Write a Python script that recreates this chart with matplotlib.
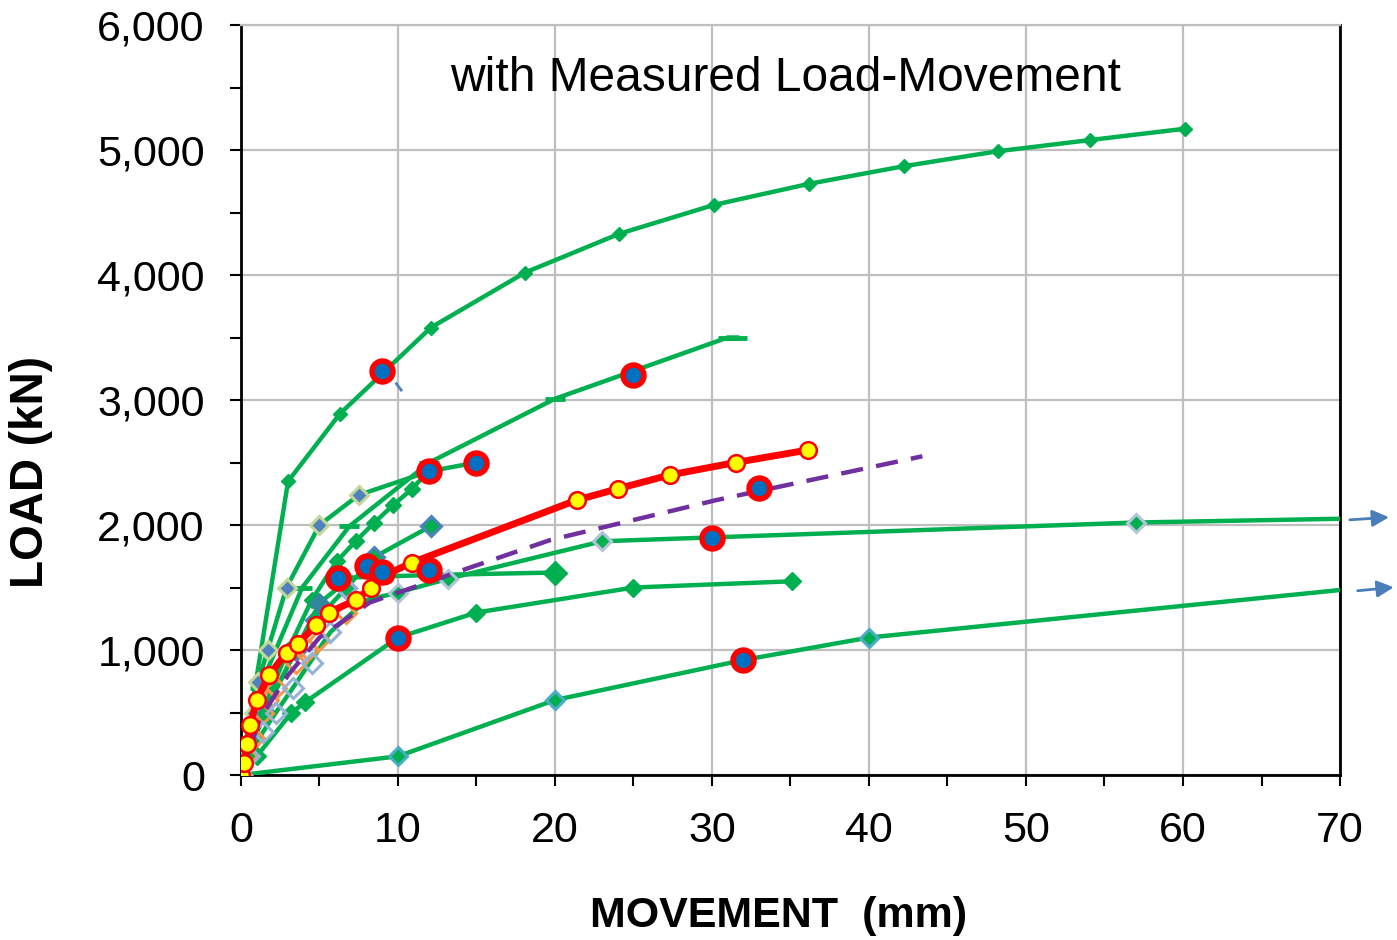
import matplotlib
matplotlib.use("Agg")
import matplotlib.pyplot as plt
from matplotlib.ticker import MultipleLocator, FuncFormatter

plt.rcParams["font.family"] = ["Liberation Sans", "DejaVu Sans"]

GREEN = "#00B050"

# ── Datos ────────────────────────────────────────────────────────────────────
# curvas verdes: (x mm, y kN)
g_top_x = [0, 3.0, 6.3, 12.1, 18.1, 24.1, 30.1, 36.2, 42.2, 48.2, 54.1, 60.1]
g_top_y = [0, 2350, 2890, 3580, 4020, 4330, 4560, 4730, 4870, 4990, 5080, 5170]

g_dash_x = [0, 1.2, 3.9, 6.9, 12.0, 20.0, 31.0, 31.6]
g_dash_y = [0, 700, 1500, 1990, 2500, 3010, 3500, 3500]

g_grey_x = [0, 0.4, 0.8, 1.1, 1.7, 2.9, 5.0, 7.5, 12.0, 15.0]
g_grey_y = [0, 256, 496, 744, 1000, 1500, 2000, 2240, 2430, 2500]

g_diam_x = [0, 1.5, 3.0, 4.5, 6.1, 7.3, 8.5, 9.7, 10.9, 12.0]
g_diam_y = [0, 550, 1000, 1400, 1710, 1870, 2020, 2160, 2290, 2440]

g_blue_x = [0, 1.5, 3.5, 4.8, 6.7, 8.5, 12.1]
g_blue_y = [0, 500, 1000, 1240, 1496, 1744, 1992]

g_flat_x = [0, 1.5, 3.5, 5.0, 7.0, 12.0, 20.0]
g_flat_y = [0, 500, 1000, 1376, 1580, 1600, 1620]

g_long_x = [0, 1.4, 2.2, 3.3, 5.7, 8.0, 10.0, 13.2, 23.0, 57.0, 70.0]
g_long_y = [0, 344, 496, 696, 1144, 1400, 1460, 1570, 1870, 2020, 2050]

g_mid_x = [0, 1.0, 3.2, 4.1, 10.0, 15.0, 25.0, 35.1]
g_mid_y = [0, 150, 496, 584, 1100, 1300, 1500, 1550]

g_low_x = [0, 10.0, 20.0, 32.0, 40.0, 70.0]
g_low_y = [0, 150, 600, 920, 1100, 1480]

# curva medida (roja con circulos amarillos)
red_x = [0, 0.2, 0.4, 0.6, 1.0, 1.8, 2.9, 3.6, 4.8, 5.6, 7.3, 8.3, 9.2, 10.9,
         21.4, 24.0, 27.3, 31.5, 36.1]
red_y = [0, 100, 250, 400, 600, 800, 980, 1050, 1200, 1300, 1400, 1500, 1600, 1700,
         2200, 2290, 2400, 2500, 2600]

# curva a trazos morada
pur_x = [0, 1.2, 3.0, 5.0, 8.2, 14.6, 19.7, 30.3, 43.4]
pur_y = [0, 450, 800, 1100, 1380, 1660, 1880, 2200, 2550]

# diamantes abiertos
orange_x = [0, 0.4, 0.8, 1.4, 1.7, 2.2, 3.5, 4.3, 5.0, 6.7]
orange_y = [0, 150, 300, 500, 600, 700, 900, 1000, 1080, 1300]
lav_x = [0, 0.5, 1.4, 2.2, 3.3, 4.5, 5.7, 6.7]
lav_y = [0, 150, 344, 496, 696, 900, 1144, 1496]

# puntos rojos con centro azul
pts_x = [9.0, 25.0, 12.0, 15.0, 33.0, 30.0, 6.2, 8.0, 9.0, 12.0, 10.0, 32.0]
pts_y = [3230, 3200, 2430, 2500, 2300, 1900, 1576, 1672, 1624, 1640, 1100, 920]

# ── Grafico ──────────────────────────────────────────────────────────────────
fig = plt.figure(figsize=(13.97, 9.4), dpi=100)
ax = fig.add_axes([0.1725, 0.1755, 0.7867, 0.7979])

lw = 3.2
ax.plot(g_top_x, g_top_y, "-D", color=GREEN, lw=lw, ms=7, zorder=3)
ax.plot(g_dash_x, g_dash_y, "-", color=GREEN, lw=lw, marker="_", ms=15, mew=3.5, zorder=3)
ax.plot(g_grey_x, g_grey_y, "-D", color=GREEN, lw=lw, ms=9, mfc="#4F81BD",
        mec="#C4D79B", mew=2.2, zorder=3)
ax.plot(g_diam_x, g_diam_y, "-D", color=GREEN, lw=lw, ms=8, zorder=3)
ax.plot(g_blue_x, g_blue_y, "-D", color=GREEN, lw=lw, ms=10, mfc=GREEN,
        mec="#4F81BD", mew=2.2, zorder=3)
ax.plot(g_flat_x, g_flat_y, "-", color=GREEN, lw=lw, zorder=3)
ax.plot(g_flat_x[-1:], g_flat_y[-1:], "D", color=GREEN, ms=12, zorder=3)
ax.plot(g_flat_x[3:4], g_flat_y[3:4], "D", color="#31859C", ms=10, zorder=3)
ax.plot(g_long_x, g_long_y, "-", color=GREEN, lw=lw, zorder=3)
ax.plot(g_long_x[6:-1], g_long_y[6:-1], "D", ls="none", ms=9, mfc=GREEN,
        mec="#B3C3DB", mew=2.2, zorder=3)
ax.plot(g_mid_x, g_mid_y, "-D", color=GREEN, lw=lw, ms=9, zorder=3)
ax.plot(g_low_x, g_low_y, "-", color=GREEN, lw=lw, zorder=3)
ax.plot(g_low_x[1:-1], g_low_y[1:-1], "D", ls="none", ms=9, mfc=GREEN,
        mec="#4BACC6", mew=2.2, zorder=3)

ax.plot(orange_x, orange_y, "D", ls="none", ms=10, mfc="none", mec="#F79646",
        mew=2.2, zorder=4)
ax.plot(lav_x, lav_y, "D", ls="none", ms=10, mfc="none", mec="#95B3D7",
        mew=2.2, zorder=4)

ax.plot(pur_x, pur_y, "--", color="#7030A0", lw=3.2, dashes=(5, 3), zorder=4)
ax.plot(red_x, red_y, "-o", color="#FF0000", lw=5, ms=12, mfc="#FFFF00",
        mec="#FF0000", mew=1.8, zorder=5)
ax.plot(pts_x, pts_y, "o", ls="none", ms=15, mfc="#0070C0", mec="#FF0000",
        mew=4, zorder=6)

# trazo azul suelto cerca de x=10
ax.plot([9.9, 10.2], [3130, 3080], color="#4F81BD", lw=2, zorder=3)

# flechas fuera del eje
for (x0, y0, x1, y1) in [(70.45, 2040, 73.3, 2064), (70.95, 1472, 73.6, 1504)]:
    ax.annotate("", xy=(x1, y1), xytext=(x0, y0), xycoords="data",
                arrowprops=dict(arrowstyle="-|>,head_length=1.0,head_width=0.5",
                                color="#4A7EBB", lw=2),
                annotation_clip=False)

ax.text(34.7, 5576, "with Measured Load-Movement", fontsize=34.5,
        ha="center", va="center", zorder=7)

ax.set_xlim(0, 70)
ax.set_ylim(0, 6000)
ax.xaxis.set_major_locator(MultipleLocator(10))
ax.xaxis.set_minor_locator(MultipleLocator(5))
ax.yaxis.set_major_locator(MultipleLocator(1000))
ax.yaxis.set_minor_locator(MultipleLocator(500))
ax.yaxis.set_major_formatter(FuncFormatter(lambda v, p: f"{int(v):,}"))
ax.tick_params(axis="both", which="both", direction="out", width=1.5,
               labelsize=31, color="black")
ax.tick_params(which="major", length=8)
ax.tick_params(which="minor", length=8)
ax.tick_params(axis="x", pad=18)
ax.tick_params(axis="y", pad=18)

ax.grid(True, which="major", color="#BFBFBF", lw=1.6, zorder=0)
ax.set_axisbelow(True)
for s in ["left", "bottom", "right"]:
    ax.spines[s].set_linewidth(2)
    ax.spines[s].set_color("black")
ax.spines["top"].set_color("#BFBFBF")
ax.spines["top"].set_linewidth(1.6)

ax.set_xlabel("MOVEMENT  (mm)", fontsize=31, fontweight="bold")
ax.xaxis.set_label_coords(0.489, -0.161)
ax.set_ylabel("LOAD (kN)", fontsize=33, fontweight="bold")
ax.yaxis.set_label_coords(-0.171, 0.404)

fig.savefig("out.png", dpi=100)
